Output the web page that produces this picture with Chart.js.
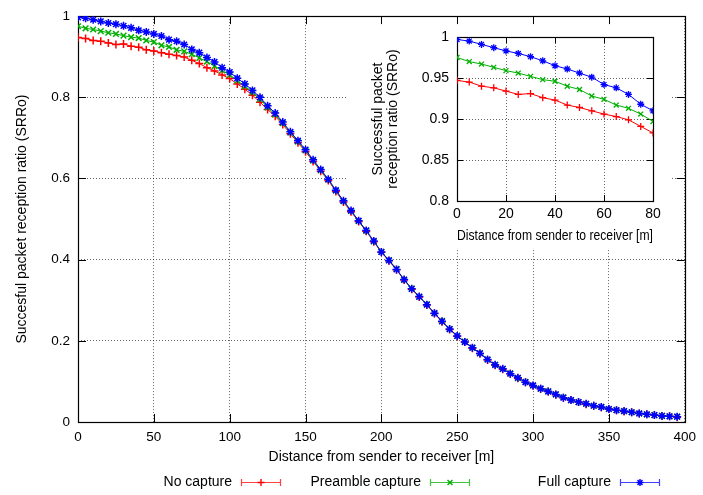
<!DOCTYPE html>
<html><head><meta charset="utf-8">
<script src="https://cdn.jsdelivr.net/npm/chart.js@4.4.1/dist/chart.umd.min.js"></script>
<style>
html,body{margin:0;padding:0;background:#fff;}
#wrap{position:relative;width:703px;height:495px;overflow:hidden;}
#main{position:absolute;left:0;top:0;}
#inset{position:absolute;left:347px;top:19px;}
</style></head><body>
<div id="wrap"><canvas id="main" width="703" height="495"></canvas><canvas id="inset" width="323" height="229"></canvas></div>
<script>
// ---- data ----
const distances = [0,5,10,15,20,25,30,35,40,45,50,55,60,65,70,75,80,85,90,95,
  100,105,110,115,120,125,130,135,140,145,150,155,160,165,170,175,180,185,190,195,
  200,205,210,215,220,225,230,235,240,245,250,255,260,265,270,275,280,285,290,295,
  300,305,310,315,320,325,330,335,340,345,350,355,360,365,370,375,380,385,390,395];
const noCapture = [0.947,0.945,0.940,0.938,0.934,0.930,0.931,0.926,0.923,0.917,0.914,0.910,0.906,0.903,0.899,0.891,0.883,0.873,0.865,0.855,
  0.846,0.833,0.820,0.805,0.788,0.770,0.753,0.733,0.710,0.688,0.666,0.642,0.618,0.595,0.568,0.542,0.518,0.494,0.470,0.444,
  0.418,0.397,0.375,0.350,0.327,0.308,0.288,0.267,0.247,0.228,0.211,0.197,0.182,0.169,0.153,0.140,0.130,0.119,0.108,0.098,
  0.089,0.082,0.075,0.067,0.060,0.054,0.049,0.044,0.040,0.036,0.032,0.029,0.026,0.024,0.021,0.019,0.017,0.015,0.014,0.012];
const preambleCapture = [0.975,0.970,0.967,0.963,0.959,0.956,0.952,0.948,0.946,0.940,0.936,0.928,0.924,0.917,0.913,0.906,0.897,0.888,0.877,0.866,
  0.855,0.841,0.827,0.812,0.795,0.775,0.757,0.736,0.713,0.691,0.669,0.644,0.620,0.597,0.570,0.544,0.520,0.495,0.471,0.445,
  0.419,0.399,0.377,0.350,0.329,0.308,0.290,0.268,0.249,0.229,0.212,0.198,0.183,0.170,0.154,0.141,0.131,0.120,0.108,0.099,
  0.090,0.082,0.076,0.068,0.061,0.054,0.049,0.045,0.040,0.037,0.032,0.029,0.027,0.024,0.021,0.019,0.017,0.015,0.014,0.013];
const fullCapture = [0.997,0.995,0.991,0.987,0.983,0.980,0.976,0.971,0.965,0.961,0.956,0.951,0.942,0.938,0.930,0.918,0.910,0.898,0.887,0.873,
  0.862,0.847,0.833,0.817,0.800,0.779,0.761,0.739,0.715,0.693,0.671,0.646,0.622,0.598,0.571,0.545,0.521,0.496,0.472,0.446,
  0.419,0.398,0.376,0.351,0.328,0.309,0.289,0.268,0.248,0.229,0.212,0.197,0.183,0.169,0.154,0.141,0.131,0.119,0.109,0.098,
  0.090,0.082,0.075,0.068,0.060,0.054,0.049,0.045,0.040,0.037,0.032,0.029,0.027,0.024,0.021,0.019,0.017,0.015,0.014,0.013];
const seriesNames = ['No capture','Preamble capture','Full capture'];
const mainXTicks = [0,50,100,150,200,250,300,350,400];
const mainYTicks = [0,0.2,0.4,0.6,0.8,1];
const insetXTicks = [0,20,40,60,80];
const insetYTicks = [0.8,0.85,0.9,0.95,1];
const insetMaxDistance = 80;

// ---- styles ----
const FONT = "'Liberation Sans', Arial, Helvetica, sans-serif";
const COLORS = ['#ff0000', '#00b000', '#0000ff'];
const STYLES = ['cross', 'crossRot', 'star'];
const SERIES = [noCapture, preambleCapture, fullCapture];

function buildDatasets(maxX, radius, pbw) {
  return SERIES.map((arr, i) => ({
    label: seriesNames[i],
    data: distances.map((d, j) => ({x: d, y: arr[j]})).filter(p => p.x <= maxX),
    borderColor: COLORS[i],
    backgroundColor: COLORS[i],
    borderWidth: 1,
    pointStyle: STYLES[i],
    pointRadius: radius,
    pointBorderWidth: pbw,
    pointHoverRadius: radius,
    tension: 0,
    order: 3 - i
  }));
}

function frameTicks(len, cover) {
  return {
    id: 'frameTicks',
    beforeDatasetsDraw(chart) {
      const {ctx, chartArea: a, scales: {x, y}} = chart;
      ctx.save();
      if (cover) {
        // white panel behind the inset: hides the main grid, data still drawn on top
        ctx.fillStyle = '#fff';
        ctx.fillRect(cover.x, cover.y, cover.w, cover.h);
      }
      ctx.strokeStyle = '#000';
      ctx.lineWidth = 1;
      ctx.beginPath();
      x.ticks.forEach(t => {
        const px = Math.round(x.getPixelForValue(t.value)) + 0.5;
        ctx.moveTo(px, a.bottom); ctx.lineTo(px, a.bottom - len);
        ctx.moveTo(px, a.top); ctx.lineTo(px, a.top + len);
      });
      y.ticks.forEach(t => {
        const py = Math.round(y.getPixelForValue(t.value)) + 0.5;
        ctx.moveTo(a.left, py); ctx.lineTo(a.left + len, py);
        ctx.moveTo(a.right, py); ctx.lineTo(a.right - len, py);
      });
      ctx.stroke();
      ctx.lineWidth = 1.2;
      ctx.strokeRect(Math.round(a.left) + 0.5, Math.round(a.top) + 0.5,
        Math.round(a.right - a.left), Math.round(a.bottom - a.top));
      ctx.restore();
    }
  };
}

function drawMarker(ctx, style, x, y, r) {
  ctx.beginPath();
  if (style === 'cross' || style === 'star') {
    ctx.moveTo(x - r, y); ctx.lineTo(x + r, y);
    ctx.moveTo(x, y - r); ctx.lineTo(x, y + r);
  }
  if (style === 'crossRot' || style === 'star') {
    const d = r * 0.7071;
    ctx.moveTo(x - d, y - d); ctx.lineTo(x + d, y + d);
    ctx.moveTo(x - d, y + d); ctx.lineTo(x + d, y - d);
  }
  ctx.stroke();
}

const legendPlugin = {
  id: 'gpLegend',
  afterDraw(chart) {
    const {ctx} = chart;
    const items = [
      {textRight: 232, l: 241, r: 281},
      {textRight: 421, l: 430, r: 470},
      {textRight: 611, l: 620, r: 660}
    ];
    const yc = 482;
    ctx.save();
    ctx.font = '14px ' + FONT;
    ctx.fillStyle = '#000';
    ctx.textAlign = 'right';
    ctx.textBaseline = 'middle';
    items.forEach((it, i) => {
      ctx.fillText(seriesNames[i], it.textRight, yc);
      ctx.strokeStyle = COLORS[i];
      ctx.globalAlpha = 0.75;
      ctx.lineWidth = 1.2;
      ctx.beginPath();
      ctx.moveTo(it.l, yc + 0.5); ctx.lineTo(it.r, yc + 0.5);
      ctx.moveTo(it.l + 0.5, yc - 3); ctx.lineTo(it.l + 0.5, yc + 4);
      ctx.moveTo(it.r - 0.5, yc - 3); ctx.lineTo(it.r - 0.5, yc + 4);
      ctx.stroke();
      ctx.globalAlpha = 1;
      ctx.lineWidth = 1.4;
      drawMarker(ctx, STYLES[i], (it.l + it.r) / 2, yc + 0.5, 3.5);
    });
    ctx.restore();
  }
};

const gridCommon = {color: 'rgba(0,0,0,0.6)', lineWidth: 1, drawTicks: false};
const borderCommon = {display: false, dash: [1, 2]};
const fmt = v => String(+v.toFixed(2));

new Chart(document.getElementById('main'), {
  type: 'line',
  data: {datasets: buildDatasets(400, 4, 1.5)},
  plugins: [frameTicks(8, {x: 347, y: 19, w: 323, h: 229}), legendPlugin],
  options: {
    responsive: false, animation: false, devicePixelRatio: 1,
    layout: {padding: {left: 0, right: 13, top: 12, bottom: 23}},
    plugins: {legend: {display: false}, tooltip: {enabled: false}},
    scales: {
      x: {
        type: 'linear', min: 0, max: 400,
        afterBuildTicks: s => { s.ticks = mainXTicks.map(v => ({value: v})); },
        afterFit: s => { s.height = 50; },
        ticks: {font: {family: FONT, size: 13.5}, color: '#000', padding: 7, maxRotation: 0, autoSkip: false, callback: fmt},
        grid: gridCommon, border: borderCommon,
        title: {display: true, text: 'Distance from sender to receiver [m]', color: '#000',
          font: {family: FONT, size: 14, lineHeight: 1.15}, padding: {top: 0, bottom: 7}}
      },
      y: {
        type: 'linear', min: 0, max: 1,
        afterBuildTicks: s => { s.ticks = mainYTicks.map(v => ({value: v})); },
        afterFit: s => { s.width = 78; },
        ticks: {font: {family: FONT, size: 13.5}, color: '#000', padding: 8, autoSkip: false, callback: fmt},
        grid: gridCommon, border: borderCommon,
        title: {display: true, text: 'Succesful packet reception ratio (SRRo)', color: '#000',
          font: {family: FONT, size: 14, lineHeight: 1.15}, padding: {top: 14, bottom: 0}}
      }
    }
  }
});

new Chart(document.getElementById('inset'), {
  type: 'line',
  data: {datasets: buildDatasets(insetMaxDistance, 3.5, 1.3)},
  plugins: [frameTicks(6, null)],
  options: {
    responsive: false, animation: false, devicePixelRatio: 1,
    layout: {padding: {left: 0, right: 17, top: 18, bottom: 0}},
    plugins: {legend: {display: false}, tooltip: {enabled: false}},
    scales: {
      x: {
        type: 'linear', min: 0, max: 80,
        afterBuildTicks: s => { s.ticks = insetXTicks.map(v => ({value: v})); },
        afterFit: s => { s.height = 47; },
        ticks: {font: {family: FONT, size: 14}, color: '#000', padding: 5, maxRotation: 0, autoSkip: false, callback: fmt},
        grid: gridCommon, border: borderCommon,
        title: {display: true, text: 'Distance from sender to receiver [m]', color: '#000',
          font: {family: FONT, size: 14, lineHeight: 1.15}, padding: {top: 0, bottom: 4}}
      },
      y: {
        type: 'linear', min: 0.8, max: 1,
        afterBuildTicks: s => { s.ticks = insetYTicks.map(v => ({value: v})); },
        afterFit: s => { s.width = 110; },
        ticks: {font: {family: FONT, size: 14}, color: '#000', padding: 8, autoSkip: false, callback: fmt},
        grid: gridCommon, border: borderCommon,
        title: {display: true, text: ['Successful packet', 'reception ratio (SRRo)'], color: '#000',
          font: {family: FONT, size: 14, lineHeight: 1.07}, padding: {top: 23.5, bottom: 0}}
      }
    }
  }
});
</script>
</body></html>
